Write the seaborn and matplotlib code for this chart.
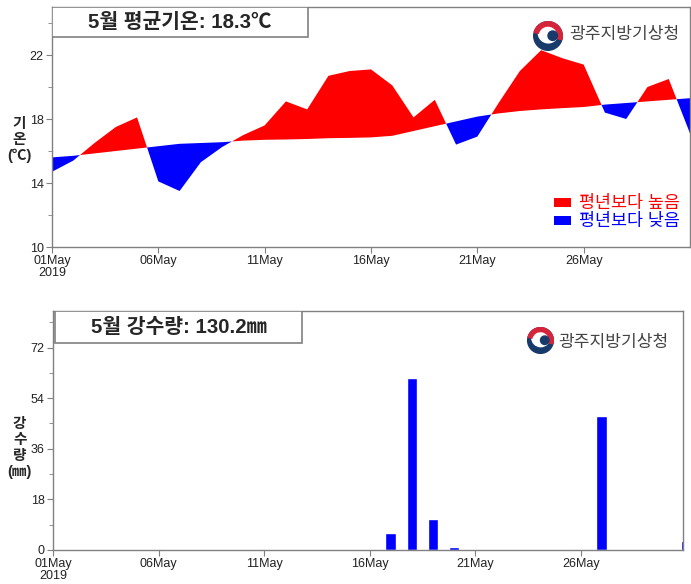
import numpy as np
import pandas as pd
import matplotlib.pyplot as plt
import seaborn as sns
from matplotlib.patches import Rectangle, Patch, Wedge, Circle

# daily values, 1 May .. 31 May 2019
day = np.arange(31)
temp_obs = [14.7, 15.4, 16.5, 17.5, 18.1, 14.1, 13.5, 15.3, 16.25, 17.0,
            17.6, 19.1, 18.6, 20.7, 21.0, 21.1, 20.1, 18.1, 19.2, 16.4,
            16.9, 19.0, 21.0, 22.3, 21.8, 21.4, 18.4, 18.0, 20.0, 20.5, 17.1]
temp_normal = [15.6, 15.7, 15.85, 16.0, 16.15, 16.3, 16.45, 16.5, 16.55, 16.65,
               16.7, 16.72, 16.75, 16.8, 16.82, 16.85, 16.95, 17.25, 17.55, 17.85,
               18.15, 18.35, 18.5, 18.6, 18.68, 18.75, 18.9, 19.0, 19.1, 19.2, 19.3]
rain = [0, 0, 0, 0, 0, 0, 0, 0, 0, 0,
        0, 0, 0, 0, 0, 0, 6.0, 61.0, 11.0, 1.0,
        0, 0, 0, 0, 0, 0.5, 47.5, 0, 0, 0, 3.2]
tick_days = [0, 5, 10, 15, 20, 25]
tick_labels = ['01May\n2019', '06May', '11May', '16May', '21May', '26May']

sns.set_style('ticks')
plt.rcParams['font.family'] = ['Liberation Sans', 'Noto Sans CJK KR']
plt.rcParams['axes.unicode_minus'] = False

df = pd.DataFrame({'day': day, 'obs': temp_obs, 'normal': temp_normal, 'rain': rain})

fig = plt.figure(figsize=(6.91, 5.84), dpi=100)
ax1 = fig.add_axes([52/691, (584-247)/584, (690-52)/691, 240/584])
ax2 = fig.add_axes([53/691, 34/584, (683-53)/691, 239/584])

GRAY = '#808080'
NAVY = '#183a6b'


def style_axis(ax):
    for s in ax.spines.values():
        s.set_color(GRAY)
        s.set_linewidth(1.0)
        s.set_visible(True)
    ax.tick_params(which='both', direction='out', color=GRAY, labelsize=9,
                   labelcolor='#222222', pad=2)
    ax.tick_params(which='major', length=4)
    ax.tick_params(which='minor', length=3)
    ax.set_xticks(tick_days)
    ax.set_xticklabels(tick_labels, linespacing=0.95)
    ax.set_xlabel('')
    ax.set_ylabel('')


def draw_logo(ax_pos, text_xy):
    lg = fig.add_axes(ax_pos)
    lg.set_aspect('equal')
    lg.set_xlim(-1.05, 1.05)
    lg.set_ylim(-1.05, 1.05)
    lg.axis('off')
    lg.add_patch(Circle((0, 0), 1, color=NAVY))
    lg.add_patch(Circle((0.02, 0.22), 0.7, color='white'))
    lg.add_patch(Wedge((0, 0), 1, -15, 165, width=0.3, color='#d6243a'))
    lg.add_patch(Circle((0.33, 0.02), 0.33, color=NAVY))
    fig.text(text_xy[0], text_xy[1], '광주지방기상청', fontsize=12.3, color='#444444',
             ha='left', va='center')


# ---- temperature panel
ax1.fill_between(df['day'], df['obs'], df['normal'], where=df['obs'] >= df['normal'],
                 interpolate=True, color='#ff0000', linewidth=0)
ax1.fill_between(df['day'], df['obs'], df['normal'], where=df['obs'] < df['normal'],
                 interpolate=True, color='#0000ff', linewidth=0)
ax1.set_xlim(0, 30)
ax1.set_ylim(10, 25)
ax1.set_yticks([10, 14, 18, 22])
ax1.set_yticks([12, 16, 20, 24], minor=True)
style_axis(ax1)

ax1.add_patch(Rectangle((0, 0.875), 0.401, 0.125, transform=ax1.transAxes,
                        facecolor='white', edgecolor=GRAY, linewidth=1.2, zorder=5))
ax1.text(0.2, 0.9375, '5월 평균기온: 18.3℃', transform=ax1.transAxes, ha='center', va='center',
         fontsize=14.7, fontweight='bold', zorder=6)
ax1.text(-0.0517, 0.446, '기\n온\n(℃)', transform=ax1.transAxes, ha='center', va='center',
         fontsize=10.5, fontweight='bold', linespacing=1.2)

handles = [Patch(facecolor='#ff0000', edgecolor='none', label='평년보다 높음'),
           Patch(facecolor='#0000ff', edgecolor='none', label='평년보다 낮음')]
ax1.legend(handles=handles, loc='lower right', bbox_to_anchor=(1.0, 0.03), frameon=False,
           fontsize=12.5, labelcolor=['#ff0000', '#0000ff'], handlelength=0.95, handleheight=0.42,
           handletextpad=0.45, labelspacing=0.12, borderaxespad=0.2)

draw_logo([533/691, (584-51)/584, 30/691, 30/584], (569/691, (584-35)/584))

# ---- precipitation panel
sns.barplot(data=df, x='day', y='rain', native_scale=True, width=0.5, color='#0000ff',
            saturation=1, ax=ax2, errorbar=None)
ax2.set_xlim(0, 29.85)
ax2.set_ylim(0, 85)
ax2.set_yticks([0, 18, 36, 54, 72])
ax2.set_yticks([9, 27, 45, 63, 81], minor=True)
style_axis(ax2)

ax2.add_patch(Rectangle((0.003, 0.866), 0.392, 0.134, transform=ax2.transAxes,
                        facecolor='white', edgecolor=GRAY, linewidth=1.2, zorder=5))
ax2.text(0.2, 0.933, '5월 강수량: 130.2㎜', transform=ax2.transAxes, ha='center', va='center',
         fontsize=14.7, fontweight='bold', zorder=6)
ax2.text(-0.053, 0.427, '강\n수\n량\n(㎜)', transform=ax2.transAxes, ha='center', va='center',
         fontsize=10.5, fontweight='bold', linespacing=1.2)

draw_logo([527/691, (584-354)/584, 27/691, 27/584], (558/691, (584-342)/584))

fig.savefig('out.png', dpi=100)
